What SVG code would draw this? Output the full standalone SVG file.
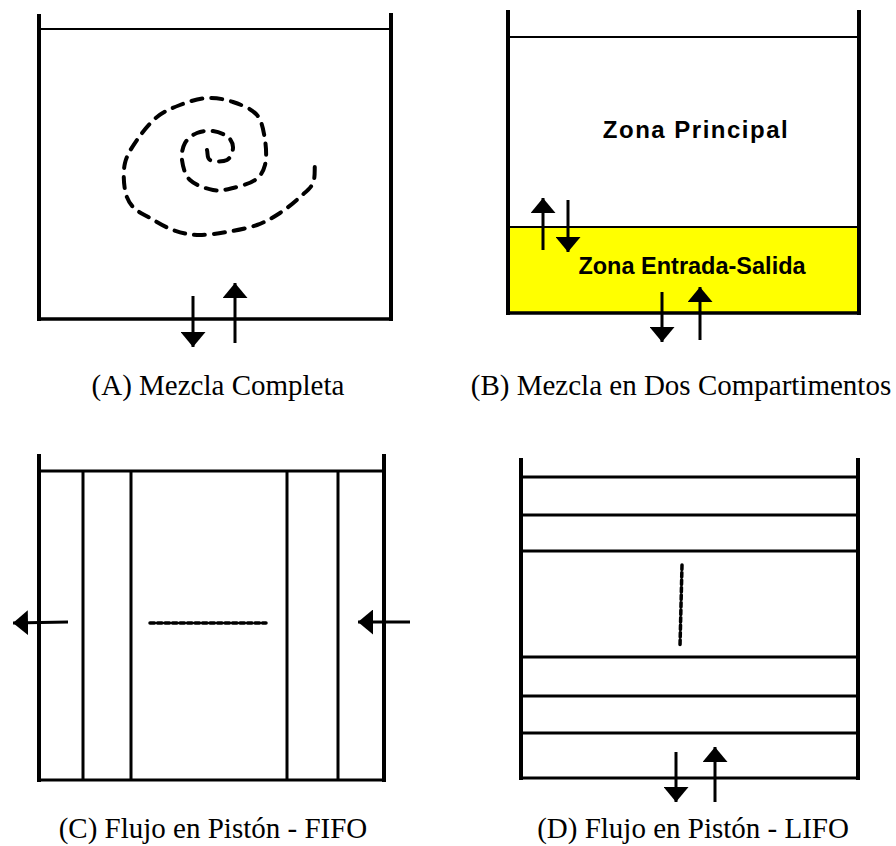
<svg xmlns="http://www.w3.org/2000/svg" width="896" height="846" viewBox="0 0 896 846">
<style>
.wall{stroke:#000;stroke-width:4;fill:none;stroke-linecap:butt}
.bot{stroke:#000;stroke-width:3.5;fill:none}
.thin{stroke:#000;stroke-width:2;fill:none}
.mid{stroke:#000;stroke-width:3;fill:none}
.arr{stroke:#000;stroke-width:3;fill:none;marker-end:url(#ah)}
.cap{font-family:"Liberation Serif","Times New Roman",serif;font-size:29px;fill:#000;text-anchor:middle}
.lbl{font-family:"Liberation Sans",Arial,sans-serif;font-weight:bold;font-size:23.5px;fill:#000;text-anchor:middle}
.dots{stroke:#000;stroke-width:3.5;fill:none;stroke-linecap:round;stroke-dasharray:4.5 3}
</style>
<defs>
<marker id="ah" viewBox="0 -12.5 15 25" markerWidth="15" markerHeight="25" refX="15" refY="0" orient="auto" markerUnits="userSpaceOnUse">
<path d="M0,-12.5 L15,0 L0,12.5 Z" fill="#000"/>
</marker>
</defs>
<rect width="896" height="846" fill="#fff"/>

<g id="nodeA">
<line class="thin" x1="39" y1="29" x2="391" y2="29"/>
<line class="wall" x1="39" y1="14" x2="39" y2="321"/>
<line class="wall" x1="391" y1="13" x2="391" y2="321"/>
<line class="bot" x1="37" y1="319" x2="393" y2="319"/>
<path d="M207,150 C208,153.3 206.7,158.3 210,160 C213.3,161.7 223.2,162 227,160 C230.8,158 232.8,151.8 233,148 C233.2,144.2 231.3,139.8 228,137 C224.7,134.2 218.2,131.7 213,131 C207.8,130.3 201.7,131 197,133 C192.3,135 187.5,138.5 185,143 C182.5,147.5 181.2,153.8 182,160 C182.8,166.2 184.8,175 190,180 C195.2,185 205.8,188.7 213,190 C220.2,191.3 226,189.7 233,188 C240,186.3 249.7,183.8 255,180 C260.3,176.2 263.3,171.7 265,165 C266.7,158.3 266.3,148.3 265,140 C263.7,131.7 262.3,121.3 257,115 C251.7,108.7 241.3,104.8 233,102 C224.7,99.2 215.8,97.5 207,98 C198.2,98.5 188.3,101.8 180,105 C171.7,108.2 164.2,111.2 157,117 C149.8,122.8 142.3,132.3 137,140 C131.7,147.7 127,154.7 125,163 C123,171.3 123.7,182.7 125,190 C126.3,197.3 128.8,202.3 133,207 C137.2,211.7 143.3,214.2 150,218 C156.7,221.8 165.2,227.2 173,230 C180.8,232.8 188,234.7 197,235 C206,235.3 217,233.7 227,232 C237,230.3 248.2,228.2 257,225 C265.8,221.8 272.8,217.7 280,213 C287.2,208.3 294.5,202 300,197 C305.5,192 310.5,188.8 313,183 C315.5,177.2 314.3,169 315,162" stroke="#000" stroke-width="4" fill="none" stroke-linecap="round" stroke-dasharray="11 9"/>
<text class="cap" x="218" y="395">(A) Mezcla Completa</text>
</g>

<g id="nodeB">
<rect x="509" y="227" width="349" height="86" fill="#ffff00"/>
<line class="thin" x1="508" y1="37" x2="858" y2="37"/>
<line class="thin" x1="508" y1="227" x2="858" y2="227"/>
<line class="wall" x1="508" y1="10" x2="508" y2="315"/>
<line class="wall" x1="859" y1="10" x2="859" y2="315"/>
<line class="bot" x1="506" y1="313" x2="861" y2="313"/>
<text class="lbl" x="696" y="138" style="font-size:24px;letter-spacing:1.5px">Zona Principal</text>
<text class="lbl" x="692" y="274">Zona Entrada-Salida</text>
<text class="cap" x="681" y="395">(B) Mezcla en Dos Compartimentos</text>
</g>

<g id="nodeC">
<line class="wall" x1="39" y1="454" x2="39" y2="782"/>
<line class="wall" x1="384" y1="454" x2="384" y2="782"/>
<line class="mid" x1="39" y1="471" x2="384" y2="471"/>
<line class="mid" x1="37" y1="780" x2="386" y2="780"/>
<line class="mid" x1="83" y1="471" x2="83" y2="780"/>
<line class="mid" x1="131" y1="471" x2="131" y2="780"/>
<line class="mid" x1="287" y1="471" x2="287" y2="780"/>
<line class="mid" x1="338" y1="471" x2="338" y2="780"/>
<line class="dots" x1="150" y1="623" x2="266" y2="623"/>
<text class="cap" x="213" y="838">(C) Flujo en Pistón - FIFO</text>
</g>

<g id="nodeD">
<line class="wall" x1="521" y1="458" x2="521" y2="780"/>
<line class="wall" x1="858" y1="458" x2="858" y2="780"/>
<line class="mid" x1="521" y1="477" x2="858" y2="477"/>
<line class="mid" x1="521" y1="515" x2="858" y2="515"/>
<line class="mid" x1="521" y1="551" x2="858" y2="551"/>
<line class="mid" x1="521" y1="657" x2="858" y2="657"/>
<line class="mid" x1="521" y1="696" x2="858" y2="696"/>
<line class="mid" x1="521" y1="733" x2="858" y2="733"/>
<line class="mid" x1="519" y1="778" x2="860" y2="778"/>
<line class="dots" x1="682" y1="565" x2="680" y2="646"/>
<text class="cap" x="693" y="838">(D) Flujo en Pistón - LIFO</text>
</g>

<g id="connectors">
<line class="arr" x1="193" y1="296" x2="193" y2="347"/>
<line class="arr" x1="235" y1="343" x2="235" y2="283"/>
<line class="arr" x1="543" y1="250" x2="543" y2="198"/>
<line class="arr" x1="568" y1="200" x2="568" y2="252"/>
<line class="arr" x1="662" y1="292" x2="662" y2="342"/>
<line class="arr" x1="700" y1="340" x2="700" y2="287"/>
<line class="arr" x1="68" y1="622" x2="13" y2="623"/>
<line class="arr" x1="410" y1="622" x2="358" y2="622"/>
<line class="arr" x1="676" y1="752" x2="676" y2="802"/>
<line class="arr" x1="715" y1="802" x2="715" y2="747"/>
</g>
</svg>
